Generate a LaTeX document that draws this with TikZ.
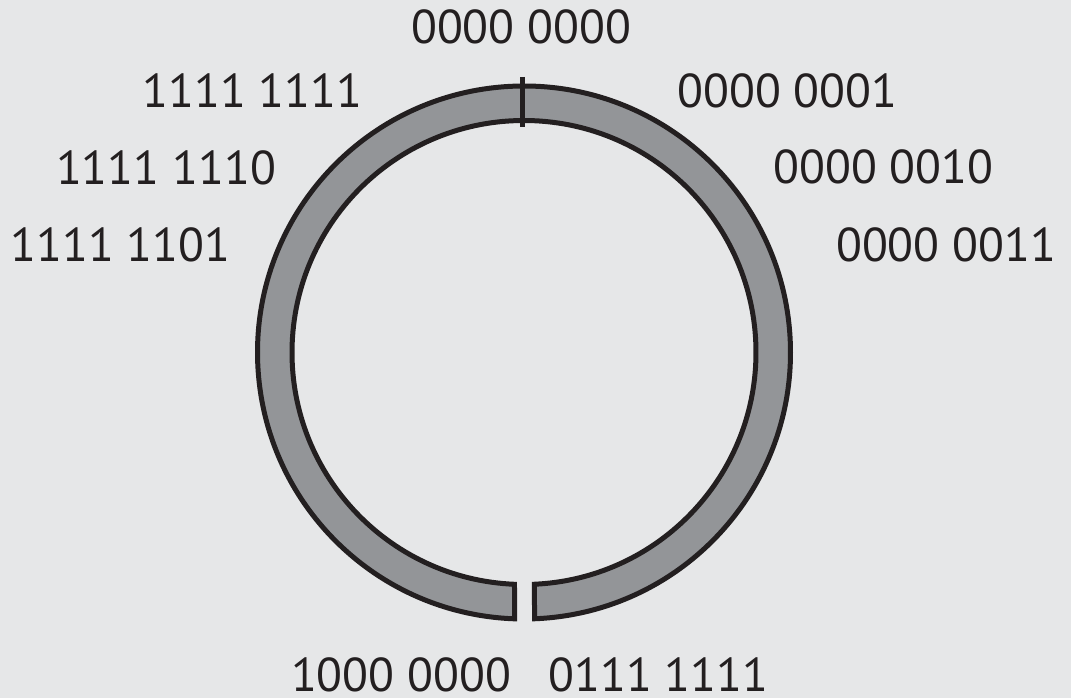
\documentclass[tikz,border=0pt]{standalone}
\usepackage{fontspec}
\setmainfont{PT Sans}
\definecolor{bg}{HTML}{E6E7E8}
\definecolor{ringfill}{HTML}{939598}
\definecolor{ink}{HTML}{231F20}
\begin{document}
\begin{tikzpicture}[x=1pt,y=1pt,
  lbl/.style={anchor=base,inner sep=0pt,text=ink,font=\fontsize{47.5}{52}\selectfont},
  ringstyle/.style={fill=ringfill,draw=ink,line width=5pt,line join=miter}]
\fill[bg] (0,0) rectangle (1071,698);
\useasboundingbox (0,0) rectangle (1071,698);
\coordinate (c) at (524,345.5);
\begin{scope}[shift={(c)}]
\draw[ringstyle] (-87.74:266.5) arc[start angle=-87.74,end angle=267.96,radius=266.5]
  -- (267.65:232) arc[start angle=267.65,end angle=-87.41,radius=232] -- cycle;
\end{scope}
\coordinate (t1) at (522,621);
\coordinate (t2) at (522,571);
\draw[ink,line width=5pt] (t1) -- (t2);
\node[lbl] (a0) at (521,654) {0000 0000};
\node[lbl] (a1) at (787.5,590) {0000 0001};
\node[lbl] (a2) at (883.5,514) {0000 0010};
\node[lbl] (a3) at (946,436) {0000 0011};
\node[lbl] (b1) at (252.5,590) {1111 1111};
\node[lbl] (b2) at (166,513) {1111 1110};
\node[lbl] (b3) at (120.5,436) {1111 1101};
\node[lbl] (m1) at (401,6) {1000 0000};
\node[lbl] (m2) at (658.5,6) {0111 1111};
\end{tikzpicture}
\end{document}
